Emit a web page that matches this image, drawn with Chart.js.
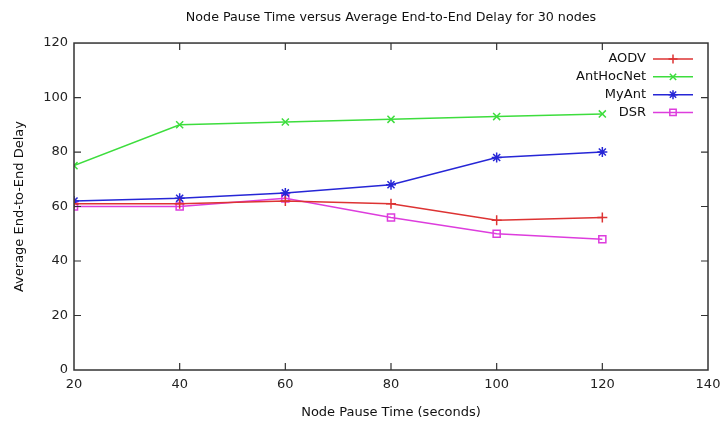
<!DOCTYPE html>
<html>
<head>
<meta charset="utf-8">
<script src="https://cdn.jsdelivr.net/npm/chart.js@4.4.1/dist/chart.umd.min.js"></script>
<style>
  html, body { margin: 0; padding: 0; background: #fff; }
  canvas { display: block; }
</style>
</head>
<body>
<canvas id="myChart" width="722" height="428"></canvas>
<script>
// valeurs
var pauseTimes = [20, 40, 60, 80, 100, 120];
var aodvDelay = [61, 61, 62, 61, 55, 56];
var antHocNetDelay = [75, 90, 91, 92, 93, 94];
var myAntDelay = [62, 63, 65, 68, 78, 80];
var dsrDelay = [60, 60, 63, 56, 50, 48];
var seriesNames = ["AODV", "AntHocNet", "MyAnt", "DSR"];
var xTickValues = [20, 40, 60, 80, 100, 120, 140];
var yTickValues = [0, 20, 40, 60, 80, 100, 120];

var FONT = "'DejaVu Sans', sans-serif";

function toPoints(values) {
  return values.map((v, i) => ({ x: pauseTimes[i], y: v }));
}

function makeDataset(label, values, color, style) {
  return {
    label: label,
    data: toPoints(values),
    borderColor: color,
    backgroundColor: color,
    borderWidth: 1.5,
    tension: 0,
    pointStyle: style,
    pointRadius: 5,
    pointBorderWidth: 1.5,
    pointBorderColor: color,
    pointBackgroundColor: style === "rect" ? "rgba(0,0,0,0)" : color,
  };
}

// ticks vers l'intérieur + cadre complet, façon gnuplot
var frameTicks = {
  id: "frameTicks",
  afterDatasetsDraw(chart) {
    let ctx = chart.ctx;
    let a = chart.chartArea;
    let xs = chart.scales.x, ys = chart.scales.y;
    ctx.save();
    ctx.strokeStyle = "#333";
    ctx.lineWidth = 1.5;
    ctx.strokeRect(a.left, a.top, a.right - a.left, a.bottom - a.top);
    ctx.lineWidth = 1.2;
    ctx.beginPath();
    xTickValues.forEach((v) => {
      let px = xs.getPixelForValue(v);
      if (v === xs.min || v === xs.max) return;
      ctx.moveTo(px, a.bottom); ctx.lineTo(px, a.bottom - 7);
      ctx.moveTo(px, a.top); ctx.lineTo(px, a.top + 7);
    });
    yTickValues.forEach((v) => {
      let py = ys.getPixelForValue(v);
      if (v === ys.min || v === ys.max) return;
      ctx.moveTo(a.left, py); ctx.lineTo(a.left + 7, py);
      ctx.moveTo(a.right, py); ctx.lineTo(a.right - 7, py);
    });
    ctx.stroke();
    ctx.restore();
  },
};

// légende dans le coin haut droit
var keyBox = {
  id: "keyBox",
  afterDatasetsDraw(chart) {
    let ctx = chart.ctx;
    let a = chart.chartArea;
    let textRight = a.right - 62;
    let lineStart = a.right - 55, lineEnd = a.right - 15;
    ctx.save();
    ctx.font = "13px " + FONT;
    ctx.textAlign = "right";
    ctx.textBaseline = "middle";
    chart.data.datasets.forEach((ds, i) => {
      let y = a.top + 16 + i * 17.8;
      ctx.fillStyle = "#111";
      ctx.fillText(ds.label, textRight, y);
      ctx.strokeStyle = ds.borderColor;
      ctx.lineWidth = 1.5;
      ctx.beginPath();
      ctx.moveTo(lineStart, y);
      ctx.lineTo(lineEnd, y);
      ctx.stroke();
      ctx.fillStyle = ds.pointBackgroundColor;
      Chart.helpers.drawPoint(ctx, {
        pointStyle: ds.pointStyle,
        radius: 4.5,
        rotation: 0,
        borderWidth: 1.5,
      }, (lineStart + lineEnd) / 2, y);
    });
    ctx.restore();
  },
};

var ctx = document.getElementById("myChart").getContext("2d");
var chartInstance = new Chart(ctx, {
  type: "line",
  data: {
    datasets: [
      makeDataset(seriesNames[0], aodvDelay, "#dd3333", "cross"),
      makeDataset(seriesNames[1], antHocNetDelay, "#3ddd3d", "crossRot"),
      makeDataset(seriesNames[2], myAntDelay, "#2626d6", "star"),
      makeDataset(seriesNames[3], dsrDelay, "#dd3ddd", "rect"),
    ],
  },
  options: {
    responsive: false,
    animation: false,
    layout: { padding: { left: 0, right: 14, top: 0, bottom: 0 } },
    plugins: {
      legend: { display: false },
      tooltip: { enabled: false },
      title: {
        display: true,
        fullSize: false,
        text: "Node Pause Time versus Average End-to-End Delay for 30 nodes",
        color: "#111",
        font: { family: FONT, size: 12.7, weight: "normal" },
        padding: { top: 10.5, bottom: 17.3 },
      },
    },
    scales: {
      x: {
        type: "linear",
        min: 20,
        max: 140,
        afterBuildTicks(scale) {
          scale.ticks = xTickValues.map((v) => ({ value: v }));
        },
        afterFit(scale) {
          scale.height = 58;
          scale.paddingRight = 0;
          scale.paddingLeft = 0;
        },
        grid: { display: false, drawTicks: false },
        border: { display: false },
        ticks: {
          color: "#222",
          padding: 7,
          maxRotation: 0,
          font: { family: FONT, size: 13 },
        },
        title: {
          display: true,
          text: "Node Pause Time (seconds)",
          color: "#111",
          font: { family: FONT, size: 13 },
          padding: { top: 4, bottom: 8 },
        },
      },
      y: {
        min: 0,
        max: 120,
        afterBuildTicks(scale) {
          scale.ticks = yTickValues.map((v) => ({ value: v }));
        },
        afterFit(scale) { scale.width = 74; },
        grid: { display: false, drawTicks: false },
        border: { display: false },
        ticks: {
          color: "#222",
          padding: 6,
          font: { family: FONT, size: 13 },
        },
        title: {
          display: true,
          text: "Average End-to-End Delay",
          color: "#111",
          font: { family: FONT, size: 13 },
          padding: { top: 12, bottom: 0 },
        },
      },
    },
  },
  plugins: [frameTicks, keyBox],
});
</script>
</body>
</html>
